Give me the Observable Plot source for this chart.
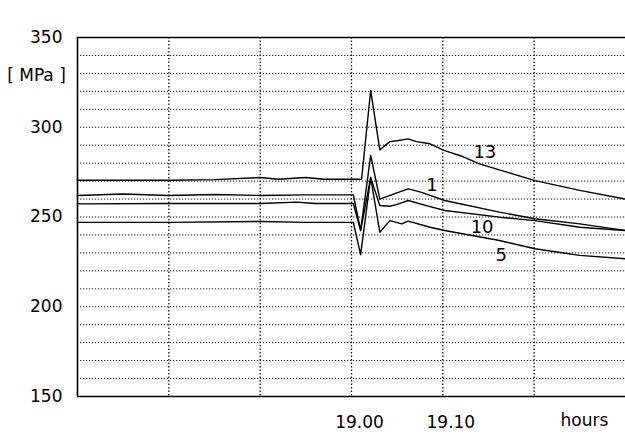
<!DOCTYPE html>
<html><head><meta charset="utf-8">
<script src="https://cdn.jsdelivr.net/npm/d3@7"></script>
<script src="https://cdn.jsdelivr.net/npm/@observablehq/plot@0.6"></script>
<style>body{margin:0;background:#fff}</style>
</head><body><div id="chart"></div>
<script>
// time in minutes after 18:00 ; stress in MPa
const t13 = [30, 40, 45, 50, 52, 55, 57, 60, 61.1, 62.1, 63.1, 64.2, 65, 66.2, 67.1, 68.6, 70.2, 72, 74.0, 77, 80.1, 85, 90];
const v13 = [270.5, 270.5, 270.8, 272, 271, 272, 271, 271, 271, 320.5, 287.4, 292, 292.5, 293.5, 292, 290.8, 287, 284, 279.6, 275, 270.3, 264.8, 260];

const t1 = [30, 35, 40, 45, 50, 55, 60.2, 61.0, 62.1, 63.1, 64.2, 66.2, 67.5, 68.6, 70.2, 76.2, 80.1, 85, 90];
const v1 = [262, 262.8, 262, 262.5, 262, 262.3, 262.3, 242.5, 284.3, 260, 262, 265.7, 264, 262, 259.2, 252.7, 249, 246.2, 242.5];

const t10 = [30, 40, 50, 54, 56, 60.2, 61.0, 62.1, 63.1, 64.2, 65, 66.2, 68.6, 70.2, 76.2, 80.1, 85, 90];
const v10 = [257.3, 257.5, 257.5, 258.3, 257.5, 257.5, 242.5, 272, 256.4, 256, 257, 259.2, 255.8, 253.6, 249.9, 248, 244.3, 242.5];

const t5 = [30, 40, 50, 55, 60.2, 61.0, 62.1, 63.1, 64.2, 65.5, 66.2, 68.6, 70.2, 76.2, 80.1, 85, 90];
const v5 = [247, 247, 247.5, 247, 247, 229, 272, 241.5, 248, 246.2, 247.7, 244.3, 242.5, 236.9, 232.3, 228.6, 226.7];

const seriesNames = ["13", "1", "10", "5"];
const labelT = [74.6, 68.8, 74.3, 76.4];
const labelV = [285.9, 267.5, 244.2, 228.5];

const yTicks = [150, 200, 250, 300, 350];
const xTicks = [60, 70];
const xTickLabels = ["19.00", "19.10"];
const gridY = d3.range(160, 350, 10);
const gridX = [40, 50, 60, 70, 80];
const unitLabel = "[ MPa ]";
const xUnit = "hours";

const allT = [t13, t1, t10, t5];
const allV = [v13, v1, v10, v5];
const rows = seriesNames.flatMap((name, k) => allT[k].map((t, i) => ({series: name, t, v: allV[k][i]})));
const labels = seriesNames.map((name, k) => ({name, t: labelT[k], v: labelV[k]}));

const font = "'DejaVu Sans', 'Liberation Sans', sans-serif";

const chart = Plot.plot({
  width: 625, height: 437,
  marginLeft: 77, marginRight: 0, marginTop: 37, marginBottom: 41,
  x: {domain: [30, 90], label: null},
  y: {domain: [150, 350], label: null},
  style: {fontFamily: font, fontSize: "17px", background: "white", color: "black"},
  marks: [
    Plot.ruleY(gridY, {stroke: "#111", strokeWidth: 1, strokeDasharray: "1.2,1.8"}),
    Plot.ruleX(gridX, {stroke: "#111", strokeWidth: 1.3, strokeDasharray: "1.5,2"}),
    Plot.ruleY([150, 350], {stroke: "#000", strokeWidth: 1.6}),
    Plot.ruleX([30], {stroke: "#000", strokeWidth: 1.6}),
    Plot.axisY(yTicks, {anchor: "left", label: null, tickSize: 0, tickPadding: 15, fontSize: 17}),
    Plot.axisX(xTicks, {anchor: "bottom", label: null, tickSize: 0, tickPadding: 19, fontSize: 17, dx: 8, tickFormat: (d) => xTickLabels[xTicks.indexOf(d)]}),
    Plot.text([xUnit], {x: [85.5], frameAnchor: "bottom", lineAnchor: "middle", textAnchor: "middle", dy: 24, fontSize: 17}),
    Plot.text([unitLabel], {y: [329], frameAnchor: "left", textAnchor: "middle", lineAnchor: "middle", dx: -41, fontSize: 17}),
    Plot.line(rows, {x: "t", y: "v", z: "series", stroke: "#000", strokeWidth: 1.4}),
    Plot.text(labels, {x: "t", y: "v", text: "name", fontSize: 18})
  ]
});
document.getElementById("chart").appendChild(chart);
</script>
</body></html>
